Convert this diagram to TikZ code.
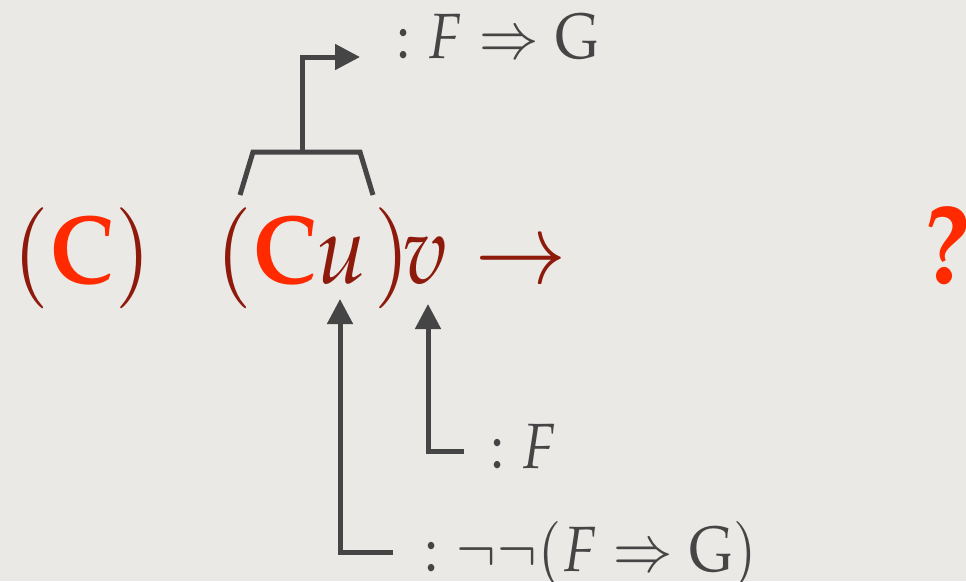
\documentclass[tikz,border=0pt]{standalone}
\usepackage[T1]{fontenc}
\usepackage{mathpazo}
\usetikzlibrary{arrows.meta}
\definecolor{bg}{HTML}{EBE9E6}
\definecolor{dred}{HTML}{8E1A0C}
\definecolor{bred}{HTML}{FF2A00}
\definecolor{ink}{HTML}{454545}
\newcommand{\bigsc}[1]{\scalebox{0.9}[1.0]{#1}}
\newcommand{\lblsc}[1]{\scalebox{0.89}[1.0]{#1}}
\tikzset{
  big/.style={inner sep=0pt, anchor=base west, font=\fontsize{97}{100}\selectfont},
  lbl/.style={inner sep=0pt, anchor=base west, text=ink, font=\fontsize{64}{70}\selectfont},
  conn/.style={draw=ink, line width=5pt},
  tip/.style={-{Triangle[length=25pt,width=25pt]}}
}
\begin{document}
\begin{tikzpicture}[x=1pt,y=-1pt]
\fill[bg] (0,0) rectangle (966,581);
\useasboundingbox (0,0) rectangle (966,581);
% main line
\node[big] (cp) at (12,283) {\bigsc{$\color{dred}(\color{bred}\mathbf{C}\color{dred})$}};
\node[big] (cu) at (215,283) {\bigsc{$\color{dred}(\color{bred}\mathbf{C}$}};
\node[big] (u) at (316,283) {\bigsc{$\color{dred}u$}};
\node[big] (rp) at (373,283) {\bigsc{$\color{dred})$}};
\node[big] (v) at (402,283) {\bigsc{$\color{dred}v$}};
\node[big] (to) at (474,283) {\bigsc{$\color{dred}\rightarrow$}};
\node[big, font=\fontsize{112}{115}\selectfont] (q) at (924,283) {\scalebox{0.92}[1.0]{\color{bred}\bfseries ?}};
% labels
\node[lbl] (lFG) at (396,58) {\lblsc{$:F\Rightarrow \mathrm{G}$}};
\node[lbl] (lF) at (490,468) {\lblsc{$:F$}};
\node[lbl] (lNN) at (424,571) {\lblsc{$:\neg\neg(F\Rightarrow \mathrm{G})$}};
% bracket and arrow to F=>G
\coordinate (bl) at (240,195);
\coordinate (bl2) at (253,152);
\coordinate (br2) at (360,152);
\coordinate (br) at (373,195);
\coordinate (stem) at (302,152);
\coordinate (tFG) at (360,57);
\draw[conn, line join=miter] (bl) -- (bl2) -- (br2) -- (br);
\draw[conn, tip] (stem) |- (tFG);
% arrow from :F to v
\coordinate (sF) at (464,451);
\coordinate (tv) at (428,304);
\draw[conn, tip] (sF) -| (tv);
% arrow from :neg neg to u
\coordinate (sNN) at (393,552);
\coordinate (tu) at (340,299);
\draw[conn, tip] (sNN) -| (tu);
\end{tikzpicture}
\end{document}
